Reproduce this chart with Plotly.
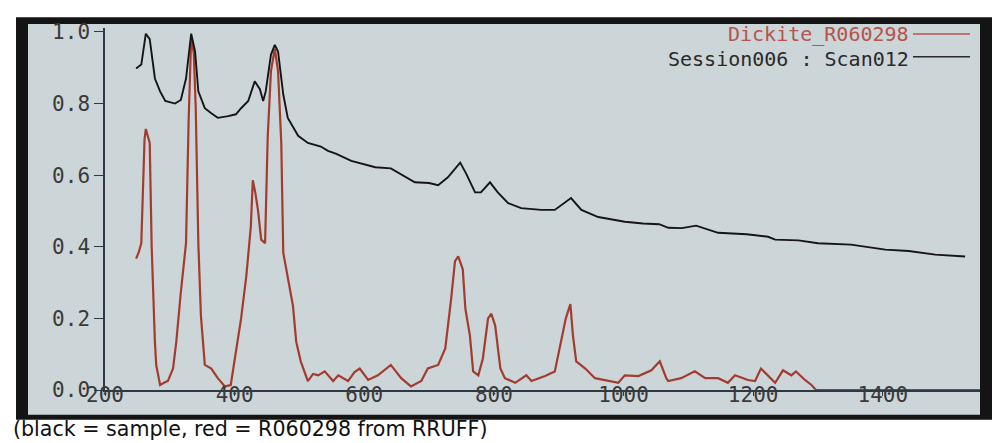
import plotly.graph_objects as go

# Sample spectrum (black)
sample_x = [248, 256, 263, 269, 277, 285, 293, 308, 317, 325, 333, 339, 344, 354, 364, 374, 390, 402,
            410, 421, 431, 439, 444, 448, 456, 462, 467, 475, 482, 498, 513, 533, 544, 556, 580, 617,
            641, 660, 678, 700, 714, 729, 748, 757, 771, 780, 794, 806, 822, 842, 873, 894, 919, 935,
            961, 1002, 1030, 1055, 1069, 1090, 1112, 1146, 1190, 1223, 1234, 1270, 1300, 1351, 1404,
            1440, 1481, 1527]
sample_y = [0.898, 0.909, 0.995, 0.98, 0.87, 0.834, 0.807, 0.80, 0.81, 0.87, 0.995, 0.945, 0.834, 0.787,
            0.773, 0.76, 0.765, 0.77, 0.787, 0.807, 0.862, 0.84, 0.807, 0.834, 0.936, 0.964, 0.945, 0.826,
            0.76, 0.71, 0.69, 0.68, 0.668, 0.66, 0.64, 0.622, 0.619, 0.60, 0.58, 0.578, 0.572, 0.594,
            0.635, 0.605, 0.552, 0.552, 0.58, 0.552, 0.522, 0.508, 0.503, 0.503, 0.536, 0.503, 0.483,
            0.47, 0.465, 0.463, 0.453, 0.452, 0.459, 0.439, 0.435, 0.428, 0.42, 0.418, 0.41, 0.406,
            0.392, 0.388, 0.378, 0.373]

# Reference spectrum Dickite R060298 (red)
ref_x = [248, 252, 256, 258, 261, 263, 267, 269, 272, 275, 277, 279, 285, 291, 297, 305, 310, 317, 325,
         329, 333, 337, 340, 344, 348, 354, 364, 374, 385, 394, 400, 410, 418, 425, 428, 432, 436, 441,
         447, 451, 456, 462, 467, 472, 475, 482, 490, 495, 502, 513, 521, 529, 539, 552, 560, 575, 585,
         593, 606, 621, 641, 657, 672, 688, 698, 714, 725, 734, 740, 745, 752, 756, 763, 768, 776, 783,
         791, 796, 802, 810, 817, 833, 850, 858, 879, 894, 904, 911, 918, 922, 927, 941, 956, 972, 992,
         1002, 1023, 1043, 1056, 1066, 1069, 1089, 1110, 1126, 1146, 1161, 1172, 1192, 1203, 1212, 1223,
         1234, 1246, 1259, 1266, 1280, 1290, 1297, 1550]
ref_y = [0.367, 0.384, 0.41, 0.55, 0.70, 0.729, 0.70, 0.69, 0.40, 0.22, 0.135, 0.07, 0.014, 0.02, 0.025,
         0.06, 0.135, 0.273, 0.41, 0.75, 0.985, 0.94, 0.787, 0.41, 0.207, 0.07, 0.06, 0.033, 0.01, 0.014,
         0.08, 0.2, 0.318, 0.456, 0.586, 0.55, 0.503, 0.42, 0.41, 0.705, 0.89, 0.953, 0.89, 0.688, 0.384,
         0.318, 0.235, 0.135, 0.08, 0.025, 0.045, 0.041, 0.052, 0.025, 0.041, 0.025, 0.05, 0.06, 0.028,
         0.041, 0.07, 0.033, 0.01, 0.025, 0.06, 0.07, 0.116, 0.254, 0.36, 0.373, 0.337, 0.227, 0.152,
         0.052, 0.041, 0.088, 0.2, 0.213, 0.18, 0.06, 0.033, 0.02, 0.041, 0.025, 0.039, 0.052, 0.135, 0.2,
         0.24, 0.152, 0.08, 0.06, 0.033, 0.028, 0.02, 0.041, 0.039, 0.055, 0.08, 0.033, 0.025, 0.033,
         0.052, 0.033, 0.033, 0.02, 0.041, 0.028, 0.025, 0.06, 0.041, 0.02, 0.055, 0.041, 0.052, 0.028,
         0.014, 0.0, 0.0]

x_ticks = [200, 400, 600, 800, 1000, 1200, 1400]
y_ticks = [0.0, 0.2, 0.4, 0.6, 0.8, 1.0]
y_tick_text = ["0.0", "0.2", "0.4", "0.6", "0.8", "1.0"]

ref_name = "Dickite_R060298"
sample_name = "Session006 : Scan012"
caption = "(black = sample, red = R060298 from RRUFF)"

RED = "#a33c30"
BLACK = "#151515"
SCREEN = "#ccd5d8"
AXIS = "#2b3a45"
LCD_FONT = "DejaVu Sans Mono"

fig = go.Figure()
fig.add_trace(go.Scatter(x=ref_x, y=ref_y, mode="lines", name=ref_name,
                         line=dict(color=RED, width=2.2), showlegend=False))
fig.add_trace(go.Scatter(x=sample_x, y=sample_y, mode="lines", name=sample_name,
                         line=dict(color=BLACK, width=1.9), showlegend=False))

# screen bezel and screen background
fig.add_shape(type="rect", xref="paper", yref="paper", x0=-0.1017, x1=1.0149, y0=-0.082, y1=1.030,
              fillcolor="#141414", line=dict(width=0), layer="below")
fig.add_shape(type="rect", xref="paper", yref="paper", x0=-0.088, x1=1.0, y0=-0.0683, y1=1.011,
              fillcolor=SCREEN, line=dict(width=0), layer="below")

# legend (text followed by line sample, as on the instrument screen)
fig.add_annotation(xref="paper", yref="paper", x=0.921, y=0.9836, text=ref_name, showarrow=False,
                   xanchor="right", yanchor="middle", font=dict(family=LCD_FONT, size=20, color="#b4544b"))
fig.add_annotation(xref="paper", yref="paper", x=0.921, y=0.915, text=sample_name, showarrow=False,
                   xanchor="right", yanchor="middle", font=dict(family=LCD_FONT, size=20, color="#2a2a2a"))
fig.add_shape(type="line", xref="paper", yref="paper", x0=0.9234, x1=0.9886, y0=0.9836, y1=0.9836,
              line=dict(color="#b4544b", width=1.5))
fig.add_shape(type="line", xref="paper", yref="paper", x0=0.9234, x1=0.9886, y0=0.9208, y1=0.9208,
              line=dict(color="#2a2a2a", width=1.5))

# caption below the photo
fig.add_annotation(xref="paper", yref="paper", x=-0.1074, y=-0.107, text=caption, showarrow=False,
                   xanchor="left", yanchor="middle", font=dict(family="DejaVu Sans", size=20.6, color="#111111"))

fig.update_layout(
    width=1000, height=443,
    margin=dict(l=97, r=28, t=16, b=61),
    paper_bgcolor="white",
    plot_bgcolor="rgba(0,0,0,0)",
    showlegend=False,
    xaxis=dict(range=[200, 1550], tickvals=x_ticks, showgrid=False, zeroline=False,
               showline=True, linecolor=AXIS, linewidth=1.5, ticks="outside", ticklen=4,
               tickcolor=AXIS, ticklabelstandoff=-19,
               tickfont=dict(family=LCD_FONT, size=21, color="#3a3a3a")),
    yaxis=dict(range=[0, 1.011], tickvals=y_ticks, ticktext=y_tick_text, showgrid=False, zeroline=False,
               showline=True, linecolor=AXIS, linewidth=1.5, ticks="outside", ticklen=9,
               tickcolor=AXIS, tickfont=dict(family=LCD_FONT, size=21, color="#3a3a3a")),
)

fig.write_html("out.html")
